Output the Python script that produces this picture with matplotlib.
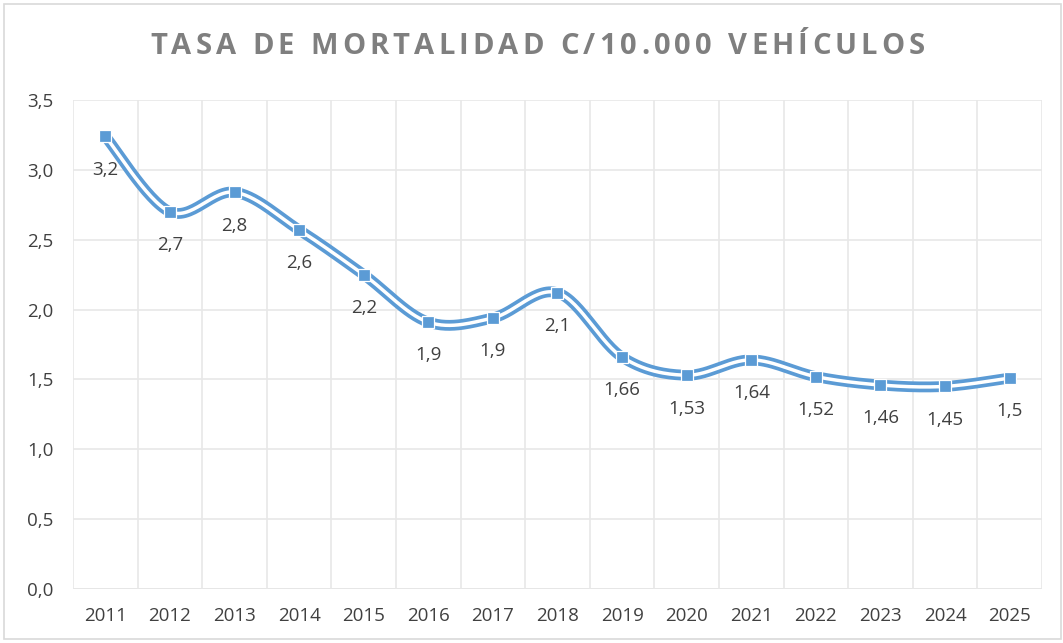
import numpy as np
import matplotlib
matplotlib.use("Agg")
import matplotlib.pyplot as plt
from matplotlib.patches import Rectangle
from matplotlib.font_manager import FontProperties

years = ["2011", "2012", "2013", "2014", "2015", "2016", "2017", "2018",
         "2019", "2020", "2021", "2022", "2023", "2024", "2025"]
rates = [3.24, 2.70, 2.84, 2.57, 2.25, 1.91, 1.94, 2.12,
         1.66, 1.53, 1.64, 1.52, 1.46, 1.45, 1.51]
labels = ["3,2", "2,7", "2,8", "2,6", "2,2", "1,9", "1,9", "2,1",
          "1,66", "1,53", "1,64", "1,52", "1,46", "1,45", "1,5"]
yticks = [0.0, 0.5, 1.0, 1.5, 2.0, 2.5, 3.0, 3.5]
title = "TASA DE MORTALIDAD C/10.000 VEHÍCULOS"

BLUE = "#5B9BD5"
TXT = "#404040"
GRID = "#E8E8E8"
FONT = "Open Sans"

plt.rcParams['font.family'] = [FONT, 'DejaVu Sans']

fig = plt.figure(figsize=(10.63, 6.43), dpi=100)
W, H = 1063, 643
ax = fig.add_axes([73 / W, 1 - 589 / H, (1042 - 73) / W, (589 - 100) / H])

x = np.arange(len(years))
y = np.array(rates)

# smooth curve (Catmull-Rom) through the data points, for drawing only
def catmull(xs, ys, n=30, tension=0.5):
    px = np.concatenate([[xs[0]], xs, [xs[-1]]])
    py = np.concatenate([[ys[0]], ys, [ys[-1]]])
    outx, outy = [], []
    for i in range(1, len(px) - 2):
        p0, p1, p2, p3 = (np.array([px[j], py[j]]) for j in (i - 1, i, i + 1, i + 2))
        m1 = tension * (p2 - p0)
        m2 = tension * (p3 - p1)
        t = np.linspace(0, 1, n, endpoint=False)
        h00 = 2 * t**3 - 3 * t**2 + 1
        h10 = t**3 - 2 * t**2 + t
        h01 = -2 * t**3 + 3 * t**2
        h11 = t**3 - t**2
        pts = (np.outer(h00, p1) + np.outer(h10, m1) + np.outer(h01, p2) + np.outer(h11, m2))
        outx.extend(pts[:, 0]); outy.extend(pts[:, 1])
    outx.append(xs[-1]); outy.append(ys[-1])
    return np.array(outx), np.array(outy)

sx, sy = catmull(x.astype(float), y)
ax.plot(sx, sy, color=BLUE, lw=7.8, solid_capstyle='butt', zorder=3)
ax.plot(sx, sy, color="white", lw=2.5, solid_capstyle='butt', zorder=4)
ax.plot(x, y, ls='none', marker='s', ms=8.6, mfc=BLUE, mec='white', mew=0.9, zorder=5)

for xi, yi, lab in zip(x, y, labels):
    ax.annotate(lab, (xi, yi), xytext=(0, -24), textcoords='offset points',
                ha='center', va='center', fontsize=13.5, color=TXT, zorder=6)

ax.set_xlim(-0.5, len(years) - 0.5)
ax.set_ylim(0, 3.5)
ax.set_yticks(yticks)
ax.set_yticklabels([f"{v:.1f}".replace('.', ',') for v in yticks])
ax.set_xticks(x)
ax.set_xticklabels(years)
ax.set_xticks(np.arange(len(years) + 1) - 0.5, minor=True)

ax.grid(axis='y', which='major', color=GRID, lw=1.2, zorder=0)
ax.grid(axis='x', which='minor', color=GRID, lw=1.2, zorder=0)
ax.grid(axis='x', which='major', visible=False)
ax.tick_params(axis='both', which='both', length=0, labelsize=13.5, labelcolor=TXT)
ax.tick_params(axis='y', pad=14)
ax.tick_params(axis='x', pad=13)
for s in ax.spines.values():
    s.set_visible(False)
ax.axhline(0, color="#D9D9D9", lw=1.2, zorder=1)

# letter-spaced title
renderer = fig.canvas.get_renderer()
prop = FontProperties(family=[FONT, 'DejaVu Sans'], weight='bold', size=21)
widths = []
for ch in title:
    if ch == " ":
        w = renderer.get_text_width_height_descent("a a", prop, ismath=False)[0] - \
            renderer.get_text_width_height_descent("aa", prop, ismath=False)[0]
    else:
        w = renderer.get_text_width_height_descent(ch, prop, ismath=False)[0]
    widths.append(w)
target_left, target_right = 150, 925
extra = (target_right - target_left - sum(widths)) / (len(title) - 1)
cx = target_left
for ch, w in zip(title, widths):
    if ch != " ":
        fig.text(cx / W, 1 - 47 / H, ch, ha='left', va='center', fontproperties=prop,
                 color="#7F7F7F")
    cx += w + extra

fig.patches.append(Rectangle((4 / W, 4 / H), (W - 6) / W, (H - 8) / H,
                             transform=fig.transFigure, fill=False,
                             edgecolor="#D9D9D9", lw=1.2))

fig.savefig("out.png", dpi=100)
